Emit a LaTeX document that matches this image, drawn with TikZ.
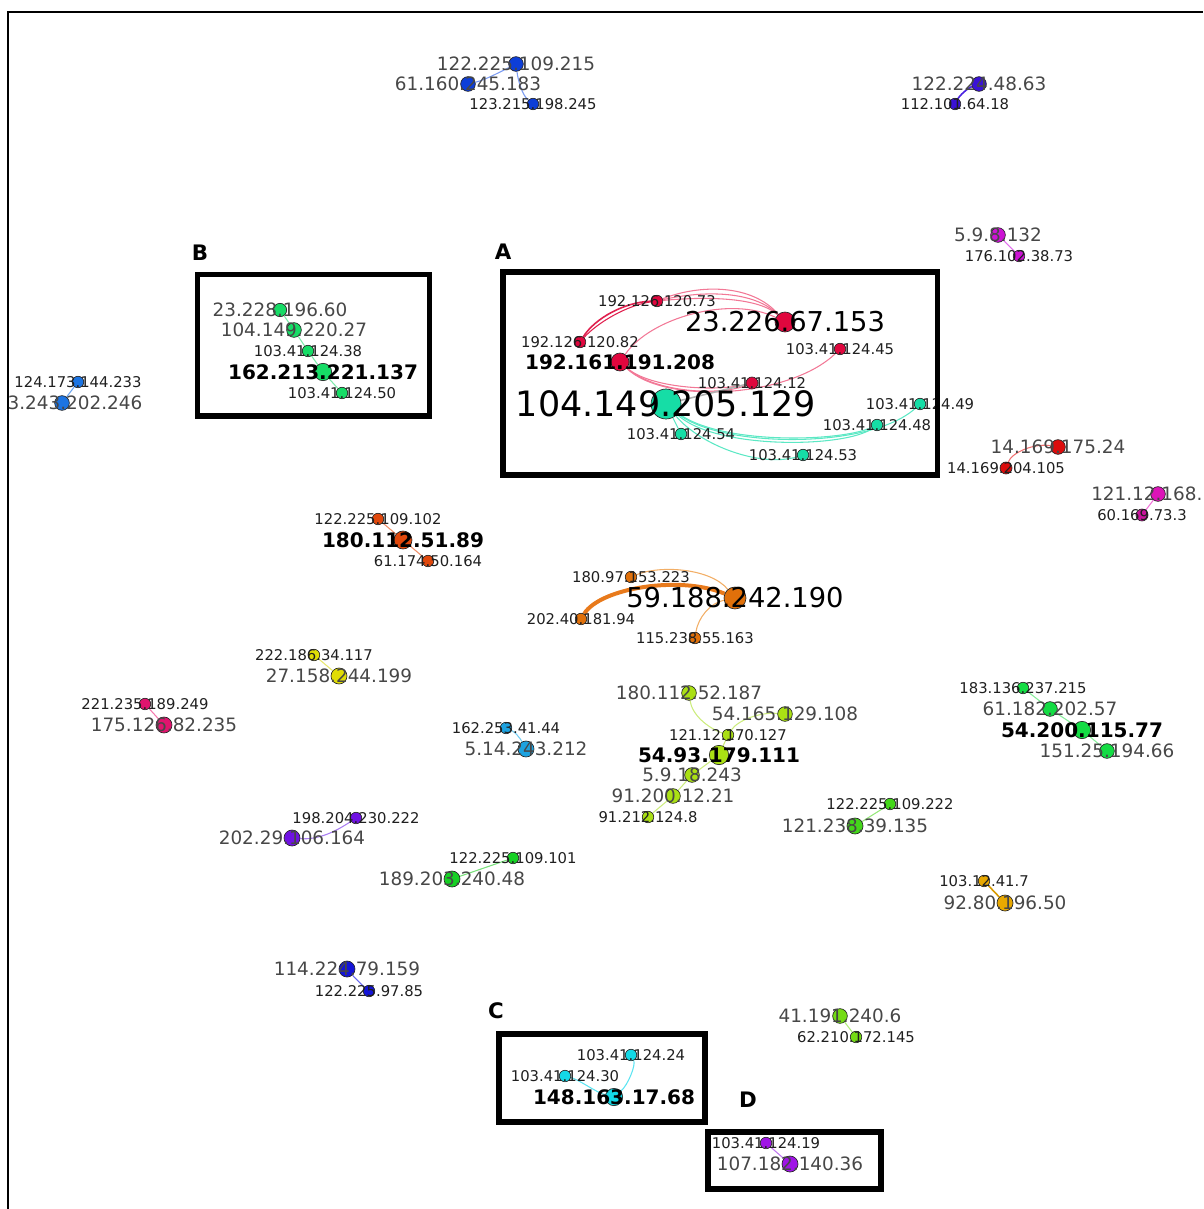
\documentclass[tikz,border=0pt]{standalone}
\usepackage{fontspec}
\setmainfont{DejaVu Sans}
\pgfdeclarelayer{edges}
\pgfdeclarelayer{labels}
\pgfsetlayers{edges,main,labels}
\definecolor{cB1}{HTML}{0D3ED8}\definecolor{eB1}{HTML}{7C9CF2}
\definecolor{cIn}{HTML}{3A12D6}\definecolor{eIn}{HTML}{4A22E0}
\definecolor{cMg}{HTML}{CC14D4}\definecolor{eMg}{HTML}{E070EC}
\definecolor{cLb}{HTML}{1C74E2}\definecolor{eLb}{HTML}{6AA4F0}
\definecolor{cRd}{HTML}{E0073E}\definecolor{eRd}{HTML}{F27896}\definecolor{eRdd}{HTML}{E0204E}
\definecolor{cTl}{HTML}{16DDA6}\definecolor{eTl}{HTML}{5CE8C4}
\definecolor{cGn}{HTML}{16DC66}\definecolor{eGn}{HTML}{7EEAAA}
\definecolor{cRr}{HTML}{DC0C0C}\definecolor{eRr}{HTML}{F07070}
\definecolor{cMr}{HTML}{DC14B8}\definecolor{cMrr}{HTML}{C8149C}\definecolor{eMr}{HTML}{F070D8}
\definecolor{cOr}{HTML}{E0480C}\definecolor{eOr}{HTML}{F0906A}
\definecolor{cOg}{HTML}{E0700A}\definecolor{eOg}{HTML}{E87A1C}\definecolor{eOgl}{HTML}{F2AE66}
\definecolor{cYl}{HTML}{E0DC06}\definecolor{eYl}{HTML}{E8E870}
\definecolor{cPk}{HTML}{E0146E}\definecolor{ePk}{HTML}{F47AAE}
\definecolor{cSk}{HTML}{1CA2E0}\definecolor{eSk}{HTML}{74CCF2}
\definecolor{cYg}{HTML}{AAE014}\definecolor{eYg}{HTML}{CCEC7E}
\definecolor{cGr}{HTML}{14DC44}\definecolor{eGr}{HTML}{86EE9A}
\definecolor{cLm}{HTML}{44D81A}\definecolor{eLm}{HTML}{94E878}
\definecolor{cPu}{HTML}{7012E2}\definecolor{ePu}{HTML}{A87CF2}
\definecolor{cGg}{HTML}{16D024}\definecolor{eGg}{HTML}{78E07A}
\definecolor{cAu}{HTML}{E8A800}\definecolor{eAu}{HTML}{D89A00}
\definecolor{cBl}{HTML}{1414D8}\definecolor{eBl}{HTML}{6666F0}
\definecolor{cLmm}{HTML}{74DC14}\definecolor{eLmm}{HTML}{AEEC78}
\definecolor{cCy}{HTML}{14D8E6}\definecolor{eCy}{HTML}{5CE4F2}
\definecolor{cVi}{HTML}{A014E6}\definecolor{eVi}{HTML}{C078F0}
\tikzset{
 dot/.style={circle, draw=black!85, line width=0.5pt, inner sep=0pt},
 sm/.style={inner sep=0pt, text=black!88, font=\fontsize{11.1}{13}\selectfont},
 md/.style={inner sep=0pt, text=black!72, font=\fontsize{13.8}{16}\selectfont},
 bd/.style={inner sep=0pt, text=black, font=\bfseries\fontsize{15}{18}\selectfont},
 lg/.style={inner sep=0pt, text=black, font=\fontsize{20.5}{24}\selectfont},
 xl/.style={inner sep=0pt, text=black, font=\fontsize{26.2}{30}\selectfont},
 lnk/.style={line width=0.8pt},
 frm/.style={draw=black, line width=3.8pt},
 tag/.style={inner sep=0pt, font=\bfseries\fontsize{16}{19}\selectfont},
}
\newcommand\vtx[6]{%
 \begin{pgfonlayer}{labels}\node[#5] (#1l) at (#2) {#6};\end{pgfonlayer}%
 \node[dot, fill=#4, minimum size=#3] (#1) at (#2) {};}
\begin{document}
\begin{tikzpicture}[x=0.75pt,y=-0.75pt]
\useasboundingbox (0,0) rectangle (1203,1209);
\draw[line width=1pt] (8,1209) -- (8,12) -- (1203,12);
% top blue
\vtx{a1}{516,64}{11pt}{cB1}{md}{122.225.109.215}
\vtx{a2}{468,84}{11pt}{cB1}{md}{61.160.245.183}
\vtx{a3}{533,104}{8.6pt}{cB1}{sm}{123.215.198.245}
% indigo
\vtx{b1}{979,84}{11pt}{cIn}{md}{122.224.48.63}
\vtx{b2}{955,104}{8.6pt}{cIn}{sm}{112.101.64.18}
% magenta
\vtx{c1}{998,235}{11pt}{cMg}{md}{5.9.8.132}
\vtx{c2}{1019,256}{8.6pt}{cMg}{sm}{176.102.38.73}
% left blue
\vtx{d1}{78,382}{8.6pt}{cLb}{sm}{124.173.144.233}
\vtx{d2}{62,403}{11pt}{cLb}{md,xshift=9.75pt}{3.243.202.246}
% group A
\vtx{e1}{657,301}{8.6pt}{cRd}{sm}{192.126.120.73}
\vtx{e2}{580,342}{8.6pt}{cRd}{sm}{192.126.120.82}
\vtx{e3}{785,322}{15pt}{cRd}{lg}{23.226.67.153}
\vtx{e4}{620,362}{13.5pt}{cRd}{bd}{192.161.191.208}
\vtx{e5}{840,349}{8.6pt}{cRd}{sm}{103.41.124.45}
\vtx{e6}{752,383}{9pt}{cRd}{sm}{103.41.124.12}
\vtx{e7}{666,404}{22.5pt}{cTl}{xl}{104.149.205.129}
\vtx{e8}{920,404}{8.6pt}{cTl}{sm}{103.41.124.49}
\vtx{e9}{877,425}{8.6pt}{cTl}{sm}{103.41.124.48}
\vtx{e10}{681,434}{8.6pt}{cTl}{sm}{103.41.124.54}
\vtx{e11}{803,455}{8.6pt}{cTl}{sm}{103.41.124.53}
% group B
\vtx{f1}{280,310}{10pt}{cGn}{md}{23.228.196.60}
\vtx{f2}{294,330}{11pt}{cGn}{md}{104.149.220.27}
\vtx{f3}{308,351}{8.6pt}{cGn}{sm}{103.41.124.38}
\vtx{f4}{323,372}{13pt}{cGn}{bd}{162.213.221.137}
\vtx{f5}{342,393}{8.6pt}{cGn}{sm}{103.41.124.50}
% red right
\vtx{g1}{1058,447}{11pt}{cRr}{md}{14.169.175.24}
\vtx{g2}{1006,468}{9pt}{cRr}{sm}{14.169.204.105}
% magenta right
\vtx{h1}{1158,494}{11pt}{cMr}{md,anchor=west,xshift=-50.25pt}{121.12.168.}
\vtx{h2}{1142,515}{9pt}{cMrr}{sm}{60.169.73.3}
% orange red
\vtx{i1}{378,519}{8.6pt}{cOr}{sm}{122.225.109.102}
\vtx{i2}{403,540}{13.5pt}{cOr}{bd}{180.112.51.89}
\vtx{i3}{428,561}{8.6pt}{cOr}{sm}{61.174.50.164}
% orange
\vtx{j1}{631,577}{8.6pt}{cOg}{sm}{180.97.153.223}
\vtx{j2}{735,598}{16.5pt}{cOg}{lg}{59.188.242.190}
\vtx{j3}{581,619}{8.6pt}{cOg}{sm}{202.40.181.94}
\vtx{j4}{695,638}{8.6pt}{cOg}{sm}{115.238.55.163}
% yellow
\vtx{k1}{314,655}{8.6pt}{cYl}{sm}{222.186.34.117}
\vtx{k2}{339,676}{12pt}{cYl}{md}{27.158.244.199}
% pink
\vtx{l1}{145,704}{8.6pt}{cPk}{sm}{221.235.189.249}
\vtx{l2}{164,725}{12pt}{cPk}{md}{175.126.82.235}
% sky
\vtx{m1}{506,728}{8.6pt}{cSk}{sm}{162.253.41.44}
\vtx{m2}{526,749}{12pt}{cSk}{md}{5.14.243.212}
% yellow-green
\vtx{p1}{689,693}{11pt}{cYg}{md}{180.112.52.187}
\vtx{p2}{785,714}{11pt}{cYg}{md}{54.165.129.108}
\vtx{p3}{728,735}{8.6pt}{cYg}{sm}{121.12.170.127}
\vtx{p4}{719,755}{14.5pt}{cYg}{bd}{54.93.179.111}
\vtx{p5}{692,775}{11pt}{cYg}{md}{5.9.18.243}
\vtx{p6}{673,796}{11pt}{cYg}{md}{91.200.12.21}
\vtx{p7}{648,817}{8.6pt}{cYg}{sm}{91.212.124.8}
% green right
\vtx{q1}{1023,688}{8.6pt}{cGr}{sm}{183.136.237.215}
\vtx{q2}{1050,709}{11pt}{cGr}{md}{61.182.202.57}
\vtx{q3}{1082,730}{13pt}{cGr}{bd}{54.200.115.77}
\vtx{q4}{1107,751}{11pt}{cGr}{md}{151.25.194.66}
% lime
\vtx{r1}{890,804}{8.6pt}{cLm}{sm}{122.225.109.222}
\vtx{r2}{855,826}{12pt}{cLm}{md}{121.238.39.135}
% purple
\vtx{s1}{356,818}{8.6pt}{cPu}{sm}{198.204.230.222}
\vtx{s2}{292,838}{12pt}{cPu}{md}{202.29.106.164}
% green
\vtx{t1}{513,858}{8.6pt}{cGg}{sm}{122.225.109.101}
\vtx{t2}{452,879}{12pt}{cGg}{md}{189.203.240.48}
% gold
\vtx{u1}{984,881}{8.6pt}{cAu}{sm}{103.12.41.7}
\vtx{u2}{1005,903}{12pt}{cAu}{md}{92.80.196.50}
% blue
\vtx{v1}{347,969}{12pt}{cBl}{md}{114.224.79.159}
\vtx{v2}{369,991}{8.6pt}{cBl}{sm}{122.225.97.85}
% lime 2
\vtx{w1}{840,1016}{11pt}{cLmm}{md}{41.191.240.6}
\vtx{w2}{856,1037}{8.6pt}{cLmm}{sm}{62.210.172.145}
% cyan C
\vtx{x1}{631,1055}{8.6pt}{cCy}{sm}{103.41.124.24}
\vtx{x2}{565,1076}{8.6pt}{cCy}{sm}{103.41.124.30}
\vtx{x3}{614,1097}{13pt}{cCy}{bd}{148.163.17.68}
% violet D
\vtx{y1}{766,1143}{8.6pt}{cVi}{sm}{103.41.124.19}
\vtx{y2}{790,1164}{12pt}{cVi}{md}{107.182.140.36}
% edges
\begin{pgfonlayer}{edges}
\draw[lnk,eB1] (a1) .. controls (500,72) and (485,80) .. (a2);
\draw[lnk,eB1] (a1) .. controls (518,80) and (522,95) .. (a3);
\draw[eIn,line width=1.2pt] (b1) .. controls (968,88) and (960,95) .. (b2);
\draw[lnk,eMg] (c1) -- (c2);
\draw[lnk,eLb] (d1) -- (d2);
\draw[lnk,eRd] (e1) .. controls (700,284) and (752,284) .. (e3);
\draw[lnk,eRd] (e1) .. controls (705,290) and (755,291) .. (e3);
\draw[lnk,eRd] (e1) .. controls (710,296) and (760,298) .. (e3);
\draw[eRdd,line width=1.2pt] (e2) .. controls (595,318) and (625,302) .. (e1);
\draw[lnk,eRdd] (e2) .. controls (598,322) and (628,305) .. (e1);
\draw[lnk,eRd] (e4) .. controls (650,318) and (730,295) .. (e3);
\draw[lnk,eRd] (e4) .. controls (650,388) and (715,392) .. (e6);
\draw[lnk,eRd] (e4) .. controls (655,393) and (720,396) .. (e6);
\draw[lnk,eRd] (e4) .. controls (665,405) and (790,398) .. (e5);
\draw[line width=1.2pt,gray!60] (e7) -- (e6);
\draw[lnk,eTl] (e7) .. controls (720,448) and (870,450) .. (e8);
\draw[lnk,eTl] (e7) .. controls (715,450) and (845,448) .. (e9);
\draw[lnk,eTl] (e7) .. controls (720,445) and (840,442) .. (e9);
\draw[lnk,eTl] (e7) .. controls (700,445) and (760,468) .. (e11);
\draw[lnk,eTl] (e7) -- (e10);
\draw[lnk,eGn] (f1) -- (f2);
\draw[lnk,eGn] (f2) -- (f3);
\draw[lnk,eGn] (f3) -- (f4);
\draw[lnk,eGn] (f4) -- (f5);
\draw[lnk,eRr] (g1) .. controls (1035,443) and (1012,452) .. (g2);
\draw[lnk,eMr] (h1) -- (h2);
\draw[lnk,eOr] (i1) -- (i2);
\draw[lnk,eOr] (i2) -- (i3);
\draw[eOg,line width=3pt] (j3) .. controls (600,588) and (680,575) .. (j2);
\draw[lnk,eOgl] (j1) .. controls (660,565) and (710,568) .. (j2);
\draw[lnk,eOgl] (j4) .. controls (698,618) and (710,603) .. (j2);
\draw[lnk,eYl] (k1) -- (k2);
\draw[lnk,ePk] (l1) -- (l2);
\draw[lnk,eSk] (m1) .. controls (515,732) and (520,738) .. (m2);
\draw[lnk,eYg] (p1) .. controls (692,715) and (708,728) .. (p3);
\draw[lnk,eYg] (p2) .. controls (760,712) and (738,720) .. (p3);
\draw[lnk,eYg] (p3) -- (p4);
\draw[lnk,eYg] (p4) -- (p5);
\draw[lnk,eYg] (p5) -- (p6);
\draw[lnk,eYg] (p6) -- (p7);
\draw[lnk,eGr] (q1) -- (q2);
\draw[lnk,eGr] (q2) -- (q3);
\draw[lnk,eGr] (q3) -- (q4);
\draw[lnk,eLm] (r1) -- (r2);
\draw[lnk,ePu] (s1) .. controls (335,832) and (318,840) .. (s2);
\draw[lnk,eGg] (t1) -- (t2);
\draw[lnk,eAu,line width=1.2pt] (u1) -- (u2);
\draw[lnk,eBl] (v1) .. controls (355,978) and (362,985) .. (v2);
\draw[lnk,eLmm] (w1) -- (w2);
\draw[lnk,eCy] (x3) .. controls (628,1085) and (636,1065) .. (x1);
\draw[lnk,eCy] (x3) .. controls (595,1092) and (580,1080) .. (x2);
\draw[lnk,eVi] (y1) -- (y2);
\end{pgfonlayer}
% frames
\begin{pgfonlayer}{labels}
\draw[frm] (503,272) rectangle (937.5,475);
\draw[frm] (197.5,274.5) rectangle (429.5,416);
\draw[frm] (499,1034) rectangle (705,1122);
\draw[frm] (708,1132) rectangle (881,1189);
\end{pgfonlayer}
\node[tag] (tA) at (503,252) {A};
\node[tag] (tB) at (200,253) {B};
\node[tag] (tC) at (496,1011) {C};
\node[tag] (tD) at (748,1100) {D};
\end{tikzpicture}
\end{document}
